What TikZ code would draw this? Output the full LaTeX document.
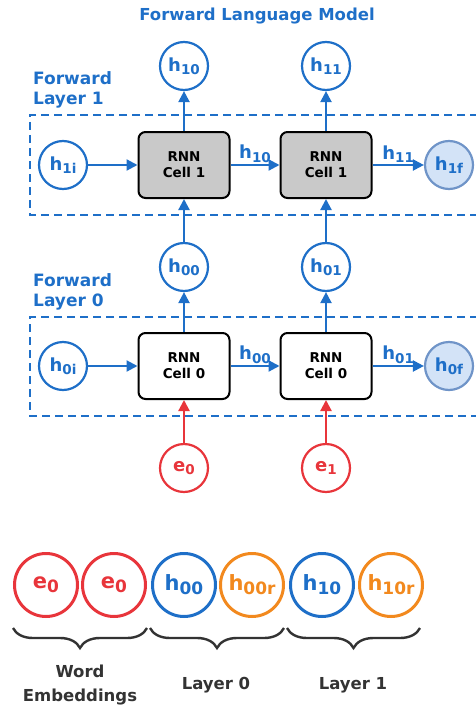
\documentclass[tikz,border=0pt]{standalone}
\usepackage{fontspec}
\setmainfont{DejaVu Sans}
\usetikzlibrary{arrows.meta,decorations.pathreplacing}

\definecolor{fblue}{HTML}{1E6FC8}
\definecolor{fred}{HTML}{E8353B}
\definecolor{forange}{HTML}{F2891E}
\definecolor{cellgray}{HTML}{C9C9C9}
\definecolor{finalfill}{HTML}{D3E3F7}
\definecolor{finaldraw}{HTML}{6F94C8}
\definecolor{txtgray}{HTML}{333333}

% symbol with a lowered index, small and large variants
\newcommand\hsm[2]{#1\raisebox{-0.35ex}{\fontsize{13.5}{13.5}\selectfont #2}}
\newcommand\hlg[2]{#1\raisebox{-0.35ex}{\fontsize{17}{17}\selectfont #2}}

\tikzset{
  state/.style={circle, draw=fblue, line width=2.2pt, minimum size=48pt,
    inner sep=0pt, text=fblue, fill=white, font=\bfseries\fontsize{18}{18}\selectfont},
  embed/.style={state, draw=fred, text=fred},
  final/.style={state, draw=finaldraw, fill=finalfill},
  bigstate/.style={circle, draw=fblue, line width=3pt, minimum size=63pt,
    inner sep=0pt, text=fblue, font=\bfseries\fontsize{21}{21}\selectfont},
  cellbox/.style={draw=black, line width=2pt, rounded corners=7pt,
    minimum width=91pt, minimum height=66pt, align=center,
    font=\bfseries\fontsize{13.5}{16}\selectfont},
  flow/.style={-{Triangle[length=11pt,width=11pt]}, draw=fblue, line width=2.2pt},
  inflow/.style={flow, draw=fred},
  flowlabel/.style={midway, above=-2pt, text=fblue, font=\bfseries\fontsize{18}{18}\selectfont},
  layerbox/.style={draw=fblue, line width=2.2pt, dash pattern=on 8pt off 5pt},
  layertitle/.style={anchor=west, align=left, inner sep=0pt, text=fblue,
    font=\bfseries\fontsize{17}{20}\selectfont},
  groupbrace/.style={decorate, decoration={brace, mirror, amplitude=20pt},
    draw=txtgray, line width=2.4pt},
  grouplabel/.style={align=center, inner sep=0pt, text=txtgray,
    font=\bfseries\fontsize{16.5}{24}\selectfont},
}

\begin{document}
\begin{tikzpicture}[x=1pt, y=-1pt]
\useasboundingbox (0,0) rectangle (475,706);

\node[text=fblue, font=\bfseries\fontsize{16.5}{16.5}\selectfont] (title) at (257,16) {Forward Language Model};

% ---- layer 1 ----
\draw[layerbox] (478,115) -- (30,115) -- (30,215) -- (478,215);
\node[layertitle] (lt1) at (33,90) {Forward\\Layer 1};

\node[state] (h1i) at (63,165) {\hsm{h}{1i}};
\node[cellbox, fill=cellgray] (c10) at (184,165) {RNN\\Cell 1};
\node[cellbox, fill=cellgray] (c11) at (326,165) {RNN\\Cell 1};
\node[final] (h1f) at (449,165) {\hsm{h}{1f}};
\node[state] (h10) at (184,66) {\hsm{h}{10}};
\node[state] (h11) at (326,66) {\hsm{h}{11}};

% ---- layer 0 ----
\draw[layerbox] (478,317) -- (30,317) -- (30,416) -- (478,416);
\node[layertitle] (lt0) at (33,292) {Forward\\Layer 0};

\node[state] (h0i) at (63,366) {\hsm{h}{0i}};
\node[cellbox, fill=white] (c00) at (184,366) {RNN\\Cell 0};
\node[cellbox, fill=white] (c01) at (326,366) {RNN\\Cell 0};
\node[final] (h0f) at (449,366) {\hsm{h}{0f}};
\node[state] (h00) at (184,267) {\hsm{h}{00}};
\node[state] (h01) at (326,267) {\hsm{h}{01}};

\node[embed] (e0) at (184,468) {\hsm{e}{0}};
\node[embed] (e1) at (326,468) {\hsm{e}{1}};

% ---- connections ----
\draw[flow] (h1i) -- (c10);
\draw[flow] (c10) -- node[flowlabel] {\hsm{h}{10}} (c11);
\draw[flow] (c11) -- node[flowlabel] {\hsm{h}{11}} (h1f);
\draw[flow] (c10) -- (h10);
\draw[flow] (c11) -- (h11);

\draw[flow] (h0i) -- (c00);
\draw[flow] (c00) -- node[flowlabel] {\hsm{h}{00}} (c01);
\draw[flow] (c01) -- node[flowlabel] {\hsm{h}{01}} (h0f);
\draw[flow] (c00) -- (h00);
\draw[flow] (c01) -- (h01);
\draw[flow] (h00) -- (c10);
\draw[flow] (h01) -- (c11);

\draw[inflow] (e0) -- (c00);
\draw[inflow] (e1) -- (c01);

% ---- concatenated representation ----
\node[bigstate, draw=fred, text=fred] (b1) at (46,585) {\hlg{e}{0}};
\node[bigstate, draw=fred, text=fred] (b2) at (114,585) {\hlg{e}{0}};
\node[bigstate] (b3) at (184,585) {\hlg{h}{00}};
\node[bigstate, draw=forange, text=forange] (b4) at (252,585) {\hlg{h}{00r}};
\node[bigstate] (b5) at (322,585) {\hlg{h}{10}};
\node[bigstate, draw=forange, text=forange] (b6) at (391,585) {\hlg{h}{10r}};

\coordinate (br1a) at (13,628);
\coordinate (br1b) at (147,628);
\coordinate (br2a) at (150,628);
\coordinate (br2b) at (284,628);
\coordinate (br3a) at (287,628);
\coordinate (br3b) at (420,628);
\draw[groupbrace] (br1a) -- (br1b);
\draw[groupbrace] (br2a) -- (br2b);
\draw[groupbrace] (br3a) -- (br3b);

\node[grouplabel] (g1) at (80,685) {Word\\Embeddings};
\node[grouplabel] (g2) at (216,685) {Layer 0};
\node[grouplabel] (g3) at (353,685) {Layer 1};
\end{tikzpicture}
\end{document}
